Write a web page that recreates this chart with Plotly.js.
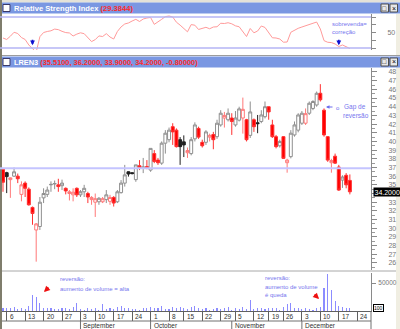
<!DOCTYPE html>
<html><head><meta charset="utf-8">
<script src="https://cdn.plot.ly/plotly-3.0.1.min.js"></script>
<style>html,body{margin:0;padding:0;background:#fff;overflow:hidden}#chart{width:400px;height:329px}</style>
</head><body><div id="chart"></div>
<script>
// ---------- data ----------
const symbol = 'LREN3';
const holidays = ['2007-09-07','2007-10-12','2007-11-02','2007-11-15','2007-11-20','2007-12-25','2007-12-31'];
const calendarStart = '2007-08-01', calendarEnd = '2007-12-31';
const firstDataDate = '2007-08-03';
const monthNames = ['August','September','October','November','December'];

const open = [36.8,36.4,35.6,36.0,36.0,33.9,35.2,34.5,32.4,29.8,
  30.2,33.5,33.9,35.0,35.1,35.0,34.9,34.6,34.0,33.85,
  34.6,33.85,34.2,34.0,33.3,33.0,33.05,33.05,33.3,33.1,
  33.55,33.05,34.1,35.2,36.5,36.4,35.6,37.2,36.95,37.1,
  36.7,38.6,37.85,37.5,39.8,40.2,41.7,41.3,40.2,39.95,
  38.7,38.6,40.3,41.5,39.9,39.9,40.5,40.8,40.55,41.9,
  42.7,42.5,42.7,41.9,42.45,42.7,42.5,40.7,42.5,42.15,
  42.3,42.85,44.0,41.9,40.55,39.5,40.55,37.55,38.25,40.75,
  41.3,42.1,42.1,43.25,43.8,44.2,45.55,43.6,40.55,37.55,
  38.3,37.05,35.55,36.1,35.51];
const high = [36.95,36.5,35.85,37.0,36.3,35.4,35.4,34.7,32.5,30.6,
  33.6,34.6,34.8,35.4,35.5,35.7,35.6,34.7,34.4,34.6,
  34.7,34.4,35.0,34.2,33.7,34.0,33.6,33.6,34.4,33.85,
  33.7,34.4,35.55,37.3,36.55,36.45,37.3,37.85,38.1,37.85,
  39.2,39.0,38.1,40.0,41.3,41.6,42.1,41.5,40.5,40.7,
  39.3,40.5,42.2,41.7,40.2,41.3,40.9,41.1,42.5,43.6,
  43.4,43.8,43.25,43.5,44.0,45.05,42.6,44.6,42.65,43.05,
  43.6,44.6,44.0,42.5,40.75,40.2,40.6,38.0,41.3,42.3,
  43.25,43.5,43.8,44.6,44.75,45.75,46.6,43.8,40.6,38.0,
  38.6,37.3,36.1,36.35,36.2];
const low = [34.2,34.05,33.5,35.9,35.2,33.1,33.6,32.6,30.4,26.15,
  29.8,32.9,33.6,34.2,34.5,34.2,34.4,33.9,33.2,33.1,
  33.6,33.6,33.6,32.9,32.7,31.3,32.7,32.9,32.9,32.7,
  32.5,32.9,34.0,34.8,35.95,36.2,35.35,36.7,36.35,36.8,
  36.5,37.5,37.3,37.3,38.6,39.9,39.6,39.3,37.3,38.2,
  38.1,38.4,40.0,40.3,39.3,39.6,40.0,39.1,40.3,41.7,
  41.6,42.3,40.75,41.7,42.3,40.9,40.0,40.4,41.1,40.95,
  42.1,42.65,42.5,40.4,39.2,39.3,38.0,36.4,38.05,40.55,
  41.05,41.9,41.9,43.05,43.6,44.0,44.6,40.55,37.65,36.4,
  37.4,34.3,34.65,34.6,33.9];
const close = [35.3,35.95,35.8,36.5,35.7,35.0,34.6,32.7,31.7,30.5,
  33.0,34.0,34.4,35.05,35.15,34.8,35.2,34.3,34.2,34.15,
  33.85,34.2,34.6,33.6,33.55,33.4,33.45,33.4,33.85,33.55,
  32.9,34.2,35.2,36.15,36.25,36.3,37.3,37.0,37.05,36.95,
  39.2,37.7,37.55,39.8,40.95,41.3,41.1,39.4,39.4,39.6,
  38.95,40.2,41.9,40.5,39.5,41.1,40.7,40.2,42.1,43.25,
  43.0,43.25,42.3,42.7,43.75,43.7,40.2,43.4,41.7,42.05,
  43.05,44.0,43.4,40.55,39.4,40.0,38.05,37.85,40.95,41.9,
  43.05,43.25,43.2,44.4,44.6,45.55,44.8,40.75,37.85,37.8,
  37.5,34.4,35.9,35.0,34.2];
const volume = [4760,5950,4760,7740,3570,4760,2980,9520,28600,25600,
  13700,4760,5950,4760,2980,3570,5950,4760,3570,7740,
  13700,2980,1790,5950,3570,4760,1790,11900,2980,5950,
  3570,7740,9520,5950,4760,2980,3570,1790,5950,4760,
  7740,5950,4760,9520,2980,3570,7740,4760,7740,4760,
  3570,6550,8930,4760,2980,4760,1790,3570,4760,2980,
  4760,6550,1790,4760,2980,7740,2980,19600,2980,5950,
  4760,3570,5950,4760,5950,1790,7740,11900,14900,4760,
  5950,3570,5950,3570,1790,4760,7740,40500,66100,37500,
  17860,9520,7740,4760,5950];
const rsi = [42.9,41.0,45.2,50.3,48.7,43.5,41.0,33.9,29.1,24.8,
  44.6,50.0,51.3,52.2,54.4,53.7,51.5,49.9,49.4,45.5,
  47.9,49.6,48.5,43.0,38.3,40.8,45.6,44.8,48.5,44.2,
  41.6,51.3,57.2,61.0,62.3,64.8,67.0,64.2,67.4,68.7,
  69.4,60.5,63.2,67.0,70.5,71.3,70.0,63.3,59.5,55.8,
  50.9,60.2,59.4,53.9,55.4,56.7,54.8,57.1,57.4,61.9,
  61.6,62.6,61.2,58.6,57.4,50.6,44.8,55.2,49.6,51.9,
  58.4,56.5,49.1,43.2,42.9,41.6,37.5,37.7,50.3,53.2,
  55.4,57.1,58.8,60.7,62.3,63.5,54.5,39.5,37.4,37.0,
  35.2,31.9,33.9,31.3,29.3844];
const rsiLevels = [30, 70];
const supportLevel = 36.9;
const oversoldMarks = [8, 91];       // candle numbers marked with blue arrows
const volumeNotes = [
  ['reversão:', 'aumento de volume = alta'],
  ['reversão:', 'aumento de volume', 'é queda']
];

// ---------- trading calendar ----------
function ymd(d){ return d.toISOString().slice(0,10); }
const calendar = [];
for (let d = new Date(calendarStart+'T00:00:00Z'); ymd(d) <= calendarEnd; d.setUTCDate(d.getUTCDate()+1)) {
  const wd = d.getUTCDay();
  if (wd === 0 || wd === 6) continue;
  if (holidays.includes(ymd(d))) continue;
  calendar.push(ymd(d));
}
const x0 = calendar.indexOf(firstDataDate);
const xs = close.map((_, i) => x0 + i);

const tickVals = [], tickText = [], monthStarts = [];
calendar.forEach((s, i) => {
  const d = new Date(s+'T00:00:00Z');
  if (i === 0 || s.slice(5,7) !== calendar[i-1].slice(5,7)) monthStarts.push(i);
  if (i > 0) {
    const p = new Date(calendar[i-1]+'T00:00:00Z');
    if (d.getUTCDay() <= p.getUTCDay() || (d - p) >= 7*86400000) { tickVals.push(i); tickText.push(String(d.getUTCDate())); }
  }
});

// ---------- geometry helpers (pixels -> paper) ----------
const W = 400, H = 329;
const px = x => x / W, py = y => 1 - y / H;
const plotRight = 371;
const xRange = [x0 - 0.81, x0 + (plotRight - 3) / 3.69];

// ---------- candle groups ----------
const groups = {
  upGray:  {line:'#8f8f8f', fill:'#ffffff', idx:[]},
  upRed:   {line:'#ff7878', fill:'#ffffff', idx:[]},
  dnBlack: {line:'#202020', fill:'#202020', idx:[]},
  dnRed:   {line:'#ff3030', fill:'#ff0000', idx:[]}
};
close.forEach((c, i) => {
  const prev = i > 0 ? close[i-1] : open[i];
  const up = c >= open[i], higher = c >= prev;
  if (up) (higher ? groups.upGray : groups.upRed).idx.push(i);
  else (higher ? groups.dnBlack : groups.dnRed).idx.push(i);
});
const traces = [];
Object.values(groups).forEach(g => {
  const pick = arr => g.idx.map(i => arr[i]);
  const st = {line:{color:g.line, width:1}, fillcolor:g.fill};
  traces.push({type:'candlestick', x:pick(xs), open:pick(open), high:pick(high), low:pick(low), close:pick(close),
    increasing:st, decreasing:st, whiskerwidth:0, xaxis:'x', yaxis:'y', hoverinfo:'skip', showlegend:false});
});
traces.push({type:'bar', x:xs, y:volume, width:0.3, marker:{color:'#8c8cff', line:{width:0}}, xaxis:'x', yaxis:'y3', hoverinfo:'skip', showlegend:false});
traces.push({type:'scatter', mode:'lines', x:xs, y:rsi, line:{color:'#ff9a9a', width:1}, xaxis:'x', yaxis:'y2', hoverinfo:'skip', showlegend:false});

// ---------- decorations ----------
const FONT = 'Liberation Sans, Arial, sans-serif';
const shapes = [];
const rect = (x0_, y0_, x1_, y1_, fill, lineColor, layer) => shapes.push({type:'rect', xref:'paper', yref:'paper',
  x0:px(x0_), x1:px(x1_), y0:py(y1_), y1:py(y0_), fillcolor:fill, line:{width:lineColor?1:0, color:lineColor||fill}, layer:layer||'above'});
const hline = (x0_, x1_, y, color, w) => shapes.push({type:'line', xref:'paper', yref:'paper', x0:px(x0_), x1:px(x1_), y0:py(y), y1:py(y), line:{color, width:w||1}, layer:'above'});
const vline = (x, y0_, y1_, color, w) => shapes.push({type:'line', xref:'paper', yref:'paper', x0:px(x), x1:px(x), y0:py(y0_), y1:py(y1_), line:{color, width:w||1}, layer:'above'});

rect(0, 0, 400, 2.5, '#e4e2d8');
rect(396, 14, 400, 329, '#f0eee2', null, 'below');
hline(0, 400, 55.5, '#9c9c9c');
hline(0, 396, 271, '#a8a8a8');
hline(0, plotRight, 321, '#707070');
vline(plotRight, 311, 329, '#707070');
// title bars
[[2.5, 13.5], [56.5, 67.5]].forEach(([a, b]) => {
  rect(0, a, 400, b, '#7a97e2');
  rect(3, a+2, 10, b-2, '#ffffff', '#3a3a6a');
  rect(381, a+1.5, 388.5, b-1.5, '#e8e8e8', '#505050');
  rect(390, a+1.5, 397.5, b-1.5, '#e8e8e8', '#505050');
});
rect(0, 0, 2, 329, '#7f7d6c');
// reference levels
shapes.push({type:'line', xref:'paper', yref:'y', x0:0, x1:px(plotRight), y0:supportLevel, y1:supportLevel, line:{color:'#c4c4ff', width:2}});
rsiLevels.forEach(v => shapes.push({type:'line', xref:'paper', yref:'y2', x0:0, x1:px(plotRight), y0:v, y1:v, line:{color:'#b4b4f4', width:1.5}}));
// month separators
monthStarts.forEach(i => shapes.push({type:'line', xref:'x', yref:'paper', x0:i, x1:i, y0:py(321), y1:py(329), line:{color:'#707070', width:1}}));

const annotations = [];
const note = (x, y, text, opts) => annotations.push(Object.assign({xref:'paper', yref:'paper', x:px(x), y:py(y), text, showarrow:false,
  xanchor:'left', yanchor:'middle', font:{family:FONT, size:6, color:'#7676ee'}}, opts||{}));

const last = close.length - 1;
note(12, 8.3, '<b>Relative Strength Index <span style="color:#ff2a2a">(' + rsi[last].toFixed(4) + ')</span></b>', {font:{family:FONT, size:7.6, color:'#ffffff'}});
const chg = close[last] - close[last-1];
note(12, 62.3, '<b>' + symbol + ' <span style="color:#ff2a2a">(' + [open[last], high[last], low[last], close[last]].map(v => v.toFixed(4)).join(', ') + ', ' + chg.toFixed(5) + ')</span></b>', {font:{family:FONT, size:7.4, color:'#ffffff'}});
[[384.7, 8], [393.7, 8], [384.7, 62], [393.7, 62]].forEach(([x, y], k) => note(x, y, k % 2 ? '×' : '□', {xanchor:'center', font:{family:FONT, size:7, color:'#000'}}));

note(330, 24, 'sobrevenda=');
note(330, 32, 'correção');
note(342, 107, 'Gap de', {font:{family:FONT, size:6.5, color:'#7676ee'}});
note(341, 115, 'reversão', {font:{family:FONT, size:6.5, color:'#7676ee'}});
// gap arrow
annotations.push({xref:'paper', yref:'paper', x:px(326), y:py(107), ax:8, ay:0, text:'', showarrow:true, arrowhead:2, arrowsize:0.7, arrowwidth:1, arrowcolor:'#6a6aee'});
note(333.5, 107.5, 'o', {font:{family:FONT, size:6, color:'#6a6aee'}});

// blue oversold arrows in RSI
oversoldMarks.forEach(i => annotations.push({xref:'x', yref:'y2', x:xs[i], y:33.5, ax:0, ay:-7, text:'', showarrow:true,
  arrowhead:2, arrowsize:0.6, arrowwidth:1.6, arrowcolor:'#1010d0'}));

// volume notes
note(58, 279, volumeNotes[0][0]);
note(58, 289, volumeNotes[0][1]);
note(263, 278, volumeNotes[1][0]);
note(263, 286.5, volumeNotes[1][1]);
note(263, 295, volumeNotes[1][2]);
annotations.push({xref:'paper', yref:'paper', x:px(44), y:py(292), ax:6, ay:-6, text:'', showarrow:true, arrowhead:2, arrowsize:0.6, arrowwidth:2, arrowcolor:'#ee1010'});
annotations.push({xref:'paper', yref:'paper', x:px(319), y:py(299), ax:-6, ay:-6, text:'', showarrow:true, arrowhead:2, arrowsize:0.6, arrowwidth:2, arrowcolor:'#ee1010'});

// last price box
annotations.push({xref:'paper', yref:'y', x:px(372.5), y:close[last], text:close[last].toFixed(4), showarrow:false, xanchor:'left', yanchor:'middle',
  bgcolor:'#000000', borderpad:0.5, font:{family:FONT, size:7, color:'#ffffff'}});
// volume value box
note(373, 307.5, '100', {bgcolor:'#ffffff', bordercolor:'#000000', borderwidth:1, borderpad:0, font:{family:FONT, size:5, color:'#000000'}});
// day labels beside weekly ticks
tickVals.forEach((v, k) => annotations.push({xref:'x', yref:'paper', x:v, y:py(316), xshift:1, text:tickText[k], showarrow:false,
  xanchor:'left', yanchor:'middle', font:{family:FONT, size:6.5, color:'#303030'}}));
// month labels
monthStarts.forEach((i, k) => annotations.push({xref:'x', yref:'paper', x:i, y:py(325.5), xshift:1, text:monthNames[k], showarrow:false,
  xanchor:'left', yanchor:'middle', font:{family:FONT, size:6.5, color:'#303030'}}));

// price tick labels (the one hidden under the last-price box is left blank)
const priceTicks = [], priceText = [];
for (let v = 26; v <= 48; v++) { priceTicks.push(v); priceText.push(Math.abs(v - close[last]) < 0.6 ? '' : String(v)); }

const axisY = {side:'right', anchor:'x', showline:true, linecolor:'#8a8a8a', linewidth:1, ticks:'outside', tickcolor:'#8a8a8a',
  showgrid:false, zeroline:false, fixedrange:true, tickfont:{family:FONT, size:7, color:'#777777'}};

const layout = {
  width:W, height:H, margin:{l:0, r:0, t:0, b:0}, paper_bgcolor:'#ffffff', plot_bgcolor:'#ffffff',
  showlegend:false, bargap:0, boxgap:0.2, boxgroupgap:0, dragmode:false,
  xaxis:{domain:[0, px(plotRight)], range:xRange, anchor:'y3', tickmode:'array', tickvals:tickVals, showticklabels:false,
    ticks:'outside', ticklen:9, tickcolor:'#606060', showline:true, linecolor:'#606060', showgrid:false, zeroline:false,
    rangeslider:{visible:false}, fixedrange:true},
  yaxis:Object.assign({}, axisY, {domain:[py(270), py(68)], range:[25.19, 48.46], tickmode:'array', tickvals:priceTicks, ticktext:priceText,
    ticklen:5, ticklabelstandoff:10, minor:{dtick:0.5, ticklen:2.5, ticks:'outside', tickcolor:'#9a9a9a'}}),
  yaxis2:Object.assign({}, axisY, {domain:[py(50), py(14)], range:[27.42, 73.87], tickmode:'array', tickvals:[30,40,50,60,70],
    ticktext:['','','50','',''], ticklen:4, ticklabelstandoff:10}),
  yaxis3:Object.assign({}, axisY, {domain:[py(311), py(273)], range:[0, 67868], tickmode:'array', tickvals:[50000], ticktext:['50000'],
    ticklen:4, ticklabelstandoff:1, tickfont:{family:FONT, size:6.5, color:'#777777'}}),
  shapes, annotations
};
Plotly.newPlot('chart', traces, layout, {staticPlot:true, displayModeBar:false});
</script></body></html>
